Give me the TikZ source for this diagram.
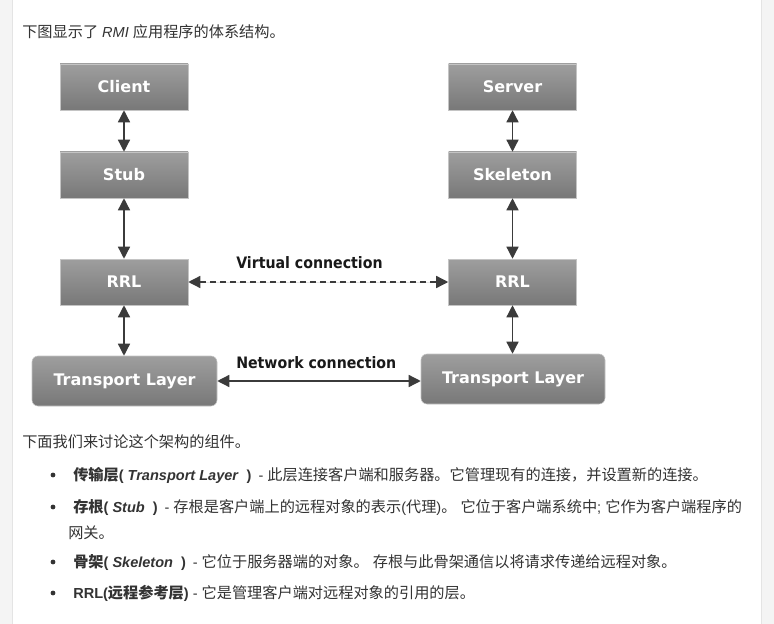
\documentclass[tikz,border=0pt]{standalone}
\usepackage{fontspec}
\setmainfont{Liberation Sans}
\newfontfamily\cjk[Scale=1.045]{Noto Sans CJK SC}
\newfontfamily\boxfont{DejaVu Sans}
\newfontfamily\lblfont{DejaVu Sans Condensed}
\usetikzlibrary{arrows.meta,shapes,calc}
\definecolor{boxtop}{HTML}{9E9E9E}
\definecolor{boxbot}{HTML}{787878}
\definecolor{boxline}{HTML}{C4C4C4}
\definecolor{arrowc}{HTML}{3B3B3B}
\definecolor{bodytext}{HTML}{333333}
\definecolor{sidebar}{HTML}{F4F4F4}
\definecolor{sideline}{HTML}{E4E4E4}
\newcommand{\zh}[1]{{\cjk #1}}
\newcommand{\closep}{\hspace{0.55em})\hspace{0.2em}}

\begin{document}
\begin{tikzpicture}
	[x=0.75pt,y=-0.75pt,
	box/.style={rectangle,draw=boxline,top color=boxtop,bottom color=boxbot,
		text=white,font=\boxfont\bfseries\fontsize{12}{14}\selectfont,
		minimum width=96pt,minimum height=34.5pt,inner sep=0pt},
	tlbox/.style={box,rounded corners=4.5pt,minimum width=138.75pt,minimum height=37.5pt},
	link/.style={{Triangle[length=9pt,width=9pt]}-{Triangle[length=9pt,width=9pt]},
		line width=1pt,draw=arrowc,fill=arrowc},
	lbl/.style={anchor=west,inner sep=0pt,text=black!90,
		font=\lblfont\bfseries\fontsize{11.8}{14}\selectfont},
	txt/.style={anchor=base west,inner sep=0pt,text=bodytext,
		font=\fontsize{10.9}{13}\selectfont},
	dot/.style={circle,fill=bodytext,inner sep=0pt,minimum size=3.6pt}]
	\useasboundingbox (0,0) rectangle (774,624);
	\fill[white] (0,0) rectangle (774,624);
	\fill[sidebar] (0,0) rectangle (12,624);
	\fill[sidebar] (761,0) rectangle (774,624);
	\draw[sideline] (12,0) -- (12,624);
	\draw[sideline] (761,0) -- (761,624);

	\node[box] (client) at (124,87) {Client};
	\node[box] (stub) at (124,175) {Stub};
	\node[box] (rrlA) at (124,282) {RRL};
	\node[tlbox] (tlA) at (124.5,381) {Transport Layer};
	\node[box] (server) at (512.5,87) {Server};
	\node[box] (skel) at (512.5,175) {Skeleton};
	\node[box] (rrlB) at (512.5,282) {RRL};
	\node[tlbox,minimum width=138pt] (tlB) at (513,379) {Transport Layer};

	\foreach \a/\b in {client/stub, stub/rrlA, rrlA/tlA, server/skel, skel/rrlB, rrlB/tlB}
	{
		\draw[link] (\a.south) -- (\a.south |- \b.north);
	}
	\draw[link,dash pattern=on 4.5pt off 3pt] (rrlA.east) -- (rrlB.west);
	\draw[link] (tlA.east) -- (tlA.east -| tlB.west);

	\node[lbl] (vlbl) at (236,263) {Virtual connection};
	\node[lbl] (nlbl) at (236,363) {Network connection};

	\node[txt] (intro) at (22,38) {\zh{下图显示了} \textit{RMI} \zh{应用程序的体系结构。}};
	\node[txt] (parts) at (22,447.5) {\zh{下面我们来讨论这个架构的组件。}};
	\foreach \y [count=\i] in {475,507,562,593}
		\node[dot] (b\i) at (53,\y) {};
	\node[txt] (t1) at (73,480.5) {{\bfseries\zh{传输层}( \textit{Transport Layer}\closep} - \zh{此层连接客户端和服务器。它管理现有的连接，并设置新的连接。}};
	\node[txt] (t2) at (73,512.5) {{\bfseries\zh{存根}( \textit{Stub}\closep} - \zh{存根是客户端上的远程对象的表示}(\zh{代理})\zh{。} \zh{它位于客户端系统中}; \zh{它作为客户端程序的}};
	\node[txt] (t2b) at (68,538.5) {\zh{网关。}};
	\node[txt] (t3) at (73,567.5) {{\bfseries\zh{骨架}( \textit{Skeleton}\closep} - \zh{它位于服务器端的对象。} \zh{存根与此骨架通信以将请求传递给远程对象。}};
	\node[txt] (t4) at (73,598.5) {{\bfseries RRL(\zh{远程参考层})} - \zh{它是管理客户端对远程对象的引用的层。}};
\end{tikzpicture}
\end{document}
